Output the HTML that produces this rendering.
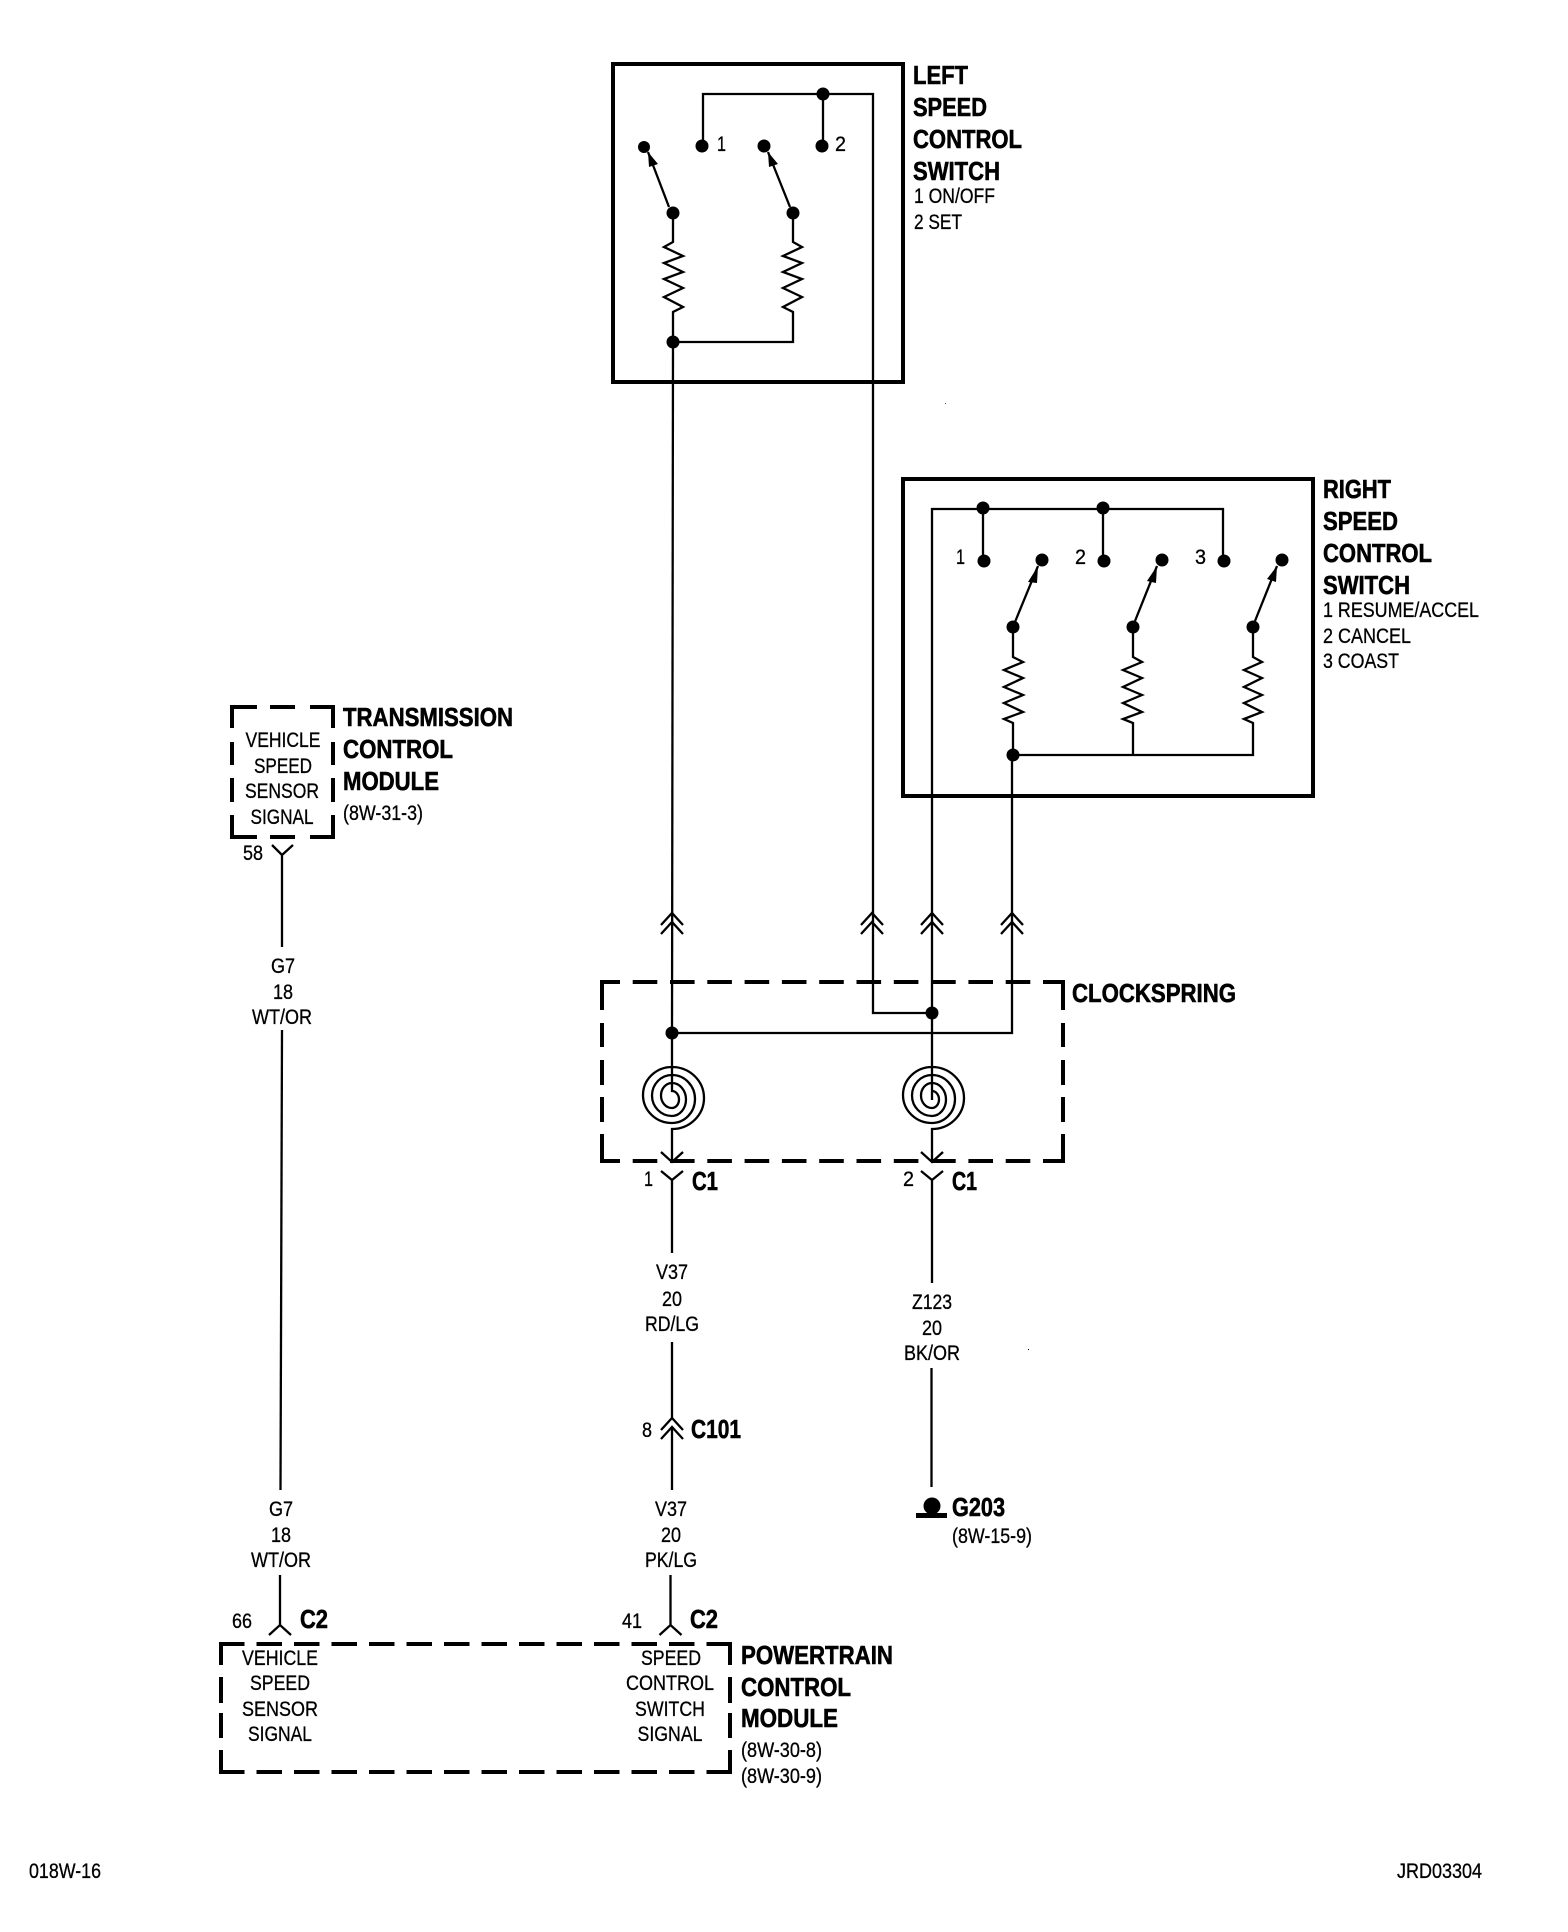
<!DOCTYPE html>
<html><head><meta charset="utf-8"><style>
html,body{margin:0;padding:0;background:#fff}
svg{display:block}
text{font-family:"Liberation Sans",sans-serif;fill:#000}
.b{font-weight:bold;font-size:26px;stroke:#000;stroke-width:.6px;transform:translateX(-1px)}
.r{font-size:21px;stroke:#000;stroke-width:.3px}
.c{text-anchor:middle}
.w{fill:none;stroke:#000;stroke-width:2.3;stroke-linejoin:miter}
.k{fill:none;stroke:#000;stroke-width:4}
.d{fill:#000;stroke:none}
</style></head><body>
<svg width="1568" height="1932" viewBox="0 0 1568 1932" xmlns="http://www.w3.org/2000/svg">
<rect width="1568" height="1932" fill="#fff"/>

<!-- LEFT SWITCH -->
<rect x="613" y="64" width="290" height="318" class="k"/>
<path class="w" d="M703 147V94H873V1013H932"/>
<path class="w" d="M823 94V147"/>
<path class="w" d="M669 207L648 152M790 207L768 152"/>
<path class="d" d="M648 152L649 167L658 164ZM768 152L769 167L778 164Z"/>
<path class="w" d="M673 213V242L664 247L683 256L664 263L683 272L664 279L683 288L664 297L683 307L673 312V342H793V312L783 307L802 297L783 288L802 279L783 272L802 263L783 256L802 247L793 242V213"/>
<path class="w" d="M673 342L672 1033"/>
<g class="d">
<circle cx="644" cy="147" r="6"/><circle cx="702" cy="146" r="6.5"/><circle cx="764" cy="146" r="6.5"/><circle cx="822" cy="146" r="6.5"/>
<circle cx="823" cy="94" r="6.5"/><circle cx="673" cy="213" r="6.5"/><circle cx="793" cy="213" r="6.5"/><circle cx="673" cy="342" r="6.5"/>
</g>
<text class="r" x="717" y="151" textLength="9" lengthAdjust="spacingAndGlyphs">1</text>
<text class="r" x="835" y="151" textLength="11" lengthAdjust="spacingAndGlyphs">2</text>
<text class="b" x="914" y="84" textLength="55" lengthAdjust="spacingAndGlyphs">LEFT</text>
<text class="b" x="914" y="116" textLength="74" lengthAdjust="spacingAndGlyphs">SPEED</text>
<text class="b" x="914" y="148" textLength="109" lengthAdjust="spacingAndGlyphs">CONTROL</text>
<text class="b" x="914" y="180" textLength="87" lengthAdjust="spacingAndGlyphs">SWITCH</text>
<text class="r" x="914" y="203" textLength="81" lengthAdjust="spacingAndGlyphs">1 ON/OFF</text>
<text class="r" x="914" y="229" textLength="48" lengthAdjust="spacingAndGlyphs">2 SET</text>

<!-- RIGHT SWITCH -->
<rect x="903" y="479" width="410" height="317" class="k"/>
<path class="w" d="M932 1100V509H1223V560"/>
<path class="w" d="M983 509V560M1103 509V560"/>
<path class="w" d="M1015 622L1038 566M1135 621L1157 566M1255 621L1277 566"/>
<path class="d" d="M1038 566L1028 582L1037 583ZM1157 566L1147 581L1156 583ZM1277 566L1267 579L1276 582Z"/>
<path class="w" d="M1013 627V657L1023 662L1004 670L1023 678L1004 687L1023 695L1004 703L1023 712L1004 719L1013 723V755"/>
<path class="w" d="M1133 627V657L1142 662L1123 670L1142 678L1123 687L1142 695L1123 703L1142 712L1123 719L1133 723V755"/>
<path class="w" d="M1253 627V657L1262 662L1244 670L1262 678L1244 687L1262 695L1244 703L1262 712L1244 719L1253 723V755H1012V1033H672"/>
<g class="d">
<circle cx="983" cy="508" r="6.5"/><circle cx="1103" cy="508" r="6.5"/>
<circle cx="984" cy="561" r="6.5"/><circle cx="1042" cy="560" r="6.5"/><circle cx="1104" cy="561" r="6.5"/><circle cx="1162" cy="560" r="6.5"/><circle cx="1224" cy="561" r="6.5"/><circle cx="1282" cy="560" r="6.5"/>
<circle cx="1013" cy="627" r="6.5"/><circle cx="1133" cy="627" r="6.5"/><circle cx="1253" cy="627" r="6.5"/><circle cx="1013" cy="755" r="6.5"/>
</g>
<text class="r" x="956" y="564" textLength="9" lengthAdjust="spacingAndGlyphs">1</text>
<text class="r" x="1075" y="564" textLength="11" lengthAdjust="spacingAndGlyphs">2</text>
<text class="r" x="1195" y="564" textLength="11" lengthAdjust="spacingAndGlyphs">3</text>
<text class="b" x="1324" y="498" textLength="68" lengthAdjust="spacingAndGlyphs">RIGHT</text>
<text class="b" x="1324" y="530" textLength="75" lengthAdjust="spacingAndGlyphs">SPEED</text>
<text class="b" x="1324" y="562" textLength="109" lengthAdjust="spacingAndGlyphs">CONTROL</text>
<text class="b" x="1324" y="594" textLength="87" lengthAdjust="spacingAndGlyphs">SWITCH</text>
<text class="r" x="1323" y="617" textLength="156" lengthAdjust="spacingAndGlyphs">1 RESUME/ACCEL</text>
<text class="r" x="1323" y="643" textLength="88" lengthAdjust="spacingAndGlyphs">2 CANCEL</text>
<text class="r" x="1323" y="668" textLength="76" lengthAdjust="spacingAndGlyphs">3 COAST</text>

<!-- CHEVRONS -->
<path class="w" d="M661 925L672 913L683 925M661 934L672 922L683 934"/>
<path class="w" d="M861 925L872 913L883 925M861 934L872 922L883 934"/>
<path class="w" d="M921 925L932 913L943 925M921 934L932 922L943 934"/>
<path class="w" d="M1001 925L1012 913L1023 925M1001 934L1012 922L1023 934"/>

<!-- CLOCKSPRING -->
<path class="k" d="M602 982H1063" stroke-dasharray="24.6 12.7" stroke-dashoffset="6.6"/>
<path class="k" d="M602 1161H1063" stroke-dasharray="24.6 12.7" stroke-dashoffset="6.6"/>
<path class="k" d="M602 980V1010M602 1023V1047M602 1060V1085M602 1097V1122M602 1134V1163"/>
<path class="k" d="M1063 980V1010M1063 1023V1047M1063 1060V1085M1063 1097V1122M1063 1134V1163"/>
<circle class="d" cx="672" cy="1033" r="6.5"/><circle class="d" cx="932" cy="1013" r="6.5"/>
<path class="w" d="M672 1033V1091A7 8.5 0 0 1 672 1108A11 12.5 0 0 1 672 1083A14 16.5 0 0 1 672 1116A20 20.500 0 0 1 672 1075A23 24 0 0 1 672 1123A29 28 0 0 1 672 1067A32 31 0 0 1 672 1129V1161"/>
<path class="w" d="M932 1091A7 8.5 0 0 1 932 1108A11 12.5 0 0 1 932 1083A14 16.5 0 0 1 932 1116A20 20.500 0 0 1 932 1075A23 24 0 0 1 932 1123A29 28 0 0 1 932 1067A32 31 0 0 1 932 1129V1161"/>
<path class="w" d="M661 1152L672 1162L683 1152M921 1152L932 1162L943 1152"/>
<path class="w" d="M661 1171L672 1180L683 1171M672 1180V1253"/>
<path class="w" d="M921 1171L932 1180L943 1171M932 1180V1283"/>
<text class="b" x="1073" y="1002" textLength="164" lengthAdjust="spacingAndGlyphs">CLOCKSPRING</text>
<text class="r" x="644" y="1186" textLength="9" lengthAdjust="spacingAndGlyphs">1</text>
<text class="r" x="903" y="1186" textLength="11" lengthAdjust="spacingAndGlyphs">2</text>
<text class="b" x="693" y="1190" textLength="26" lengthAdjust="spacingAndGlyphs">C1</text>
<text class="b" x="953" y="1190" textLength="25" lengthAdjust="spacingAndGlyphs">C1</text>

<!-- V37 -->
<text class="r c" x="672" y="1279" textLength="32" lengthAdjust="spacingAndGlyphs">V37</text>
<text class="r c" x="672" y="1306" textLength="20" lengthAdjust="spacingAndGlyphs">20</text>
<text class="r c" x="672" y="1331" textLength="54" lengthAdjust="spacingAndGlyphs">RD/LG</text>
<path class="w" d="M672 1342V1418M672 1427V1490M661 1430L672 1418L683 1430M661 1439L672 1427L683 1439"/>
<text class="r" x="642" y="1437" textLength="10" lengthAdjust="spacingAndGlyphs">8</text>
<text class="b" x="692" y="1438" textLength="50" lengthAdjust="spacingAndGlyphs">C101</text>
<text class="r c" x="671" y="1516" textLength="32" lengthAdjust="spacingAndGlyphs">V37</text>
<text class="r c" x="671" y="1542" textLength="20" lengthAdjust="spacingAndGlyphs">20</text>
<text class="r c" x="671" y="1567" textLength="52" lengthAdjust="spacingAndGlyphs">PK/LG</text>

<!-- Z123 -->
<text class="r c" x="932" y="1309" textLength="40" lengthAdjust="spacingAndGlyphs">Z123</text>
<text class="r c" x="932" y="1335" textLength="20" lengthAdjust="spacingAndGlyphs">20</text>
<text class="r c" x="932" y="1360" textLength="56" lengthAdjust="spacingAndGlyphs">BK/OR</text>
<path class="w" d="M931.500 1368V1487"/>
<path class="d" d="M916 1513H947V1518H916Z"/>
<circle class="d" cx="932" cy="1506" r="8.500"/>
<text class="b" x="953" y="1516" textLength="53" lengthAdjust="spacingAndGlyphs">G203</text>
<text class="r" x="952" y="1543" textLength="80" lengthAdjust="spacingAndGlyphs">(8W-15-9)</text>
<rect x="1028" y="1349" width="1" height="1" fill="#000"/>
<rect x="945" y="403" width="1" height="1" fill="#555"/>

<!-- TCM -->
<path class="k" d="M232 709V707H257M270 707H295M310 707H333V728M333 742V765M333 778V802M333 815V837H310M295 837H270M257 837H232V815M232 802V778M232 765V742M232 728V709"/>
<text class="r c" x="283" y="747" textLength="75" lengthAdjust="spacingAndGlyphs">VEHICLE</text>
<text class="r c" x="283" y="773" textLength="58" lengthAdjust="spacingAndGlyphs">SPEED</text>
<text class="r c" x="282" y="798" textLength="74" lengthAdjust="spacingAndGlyphs">SENSOR</text>
<text class="r c" x="282" y="824" textLength="63" lengthAdjust="spacingAndGlyphs">SIGNAL</text>
<text class="b" x="344" y="726" textLength="170" lengthAdjust="spacingAndGlyphs">TRANSMISSION</text>
<text class="b" x="344" y="758" textLength="110" lengthAdjust="spacingAndGlyphs">CONTROL</text>
<text class="b" x="344" y="790" textLength="96" lengthAdjust="spacingAndGlyphs">MODULE</text>
<text class="r" x="343" y="820" textLength="80" lengthAdjust="spacingAndGlyphs">(8W-31-3)</text>
<text class="r" x="243" y="860" textLength="20" lengthAdjust="spacingAndGlyphs">58</text>
<path class="w" d="M272 845L282 855L293 845M282 855V947"/>
<text class="r c" x="283" y="973" textLength="24" lengthAdjust="spacingAndGlyphs">G7</text>
<text class="r c" x="283" y="999" textLength="20" lengthAdjust="spacingAndGlyphs">18</text>
<text class="r c" x="282" y="1024" textLength="60" lengthAdjust="spacingAndGlyphs">WT/OR</text>
<path class="w" d="M282 1030L280.500 1490"/>
<text class="r c" x="281" y="1516" textLength="24" lengthAdjust="spacingAndGlyphs">G7</text>
<text class="r c" x="281" y="1542" textLength="20" lengthAdjust="spacingAndGlyphs">18</text>
<text class="r c" x="281" y="1567" textLength="60" lengthAdjust="spacingAndGlyphs">WT/OR</text>

<!-- PCM -->
<path class="w" d="M280 1575V1625M269 1635L280 1625L291 1635"/>
<path class="w" d="M670.500 1575V1625M659.500 1635L670.500 1625L681.500 1635"/>
<text class="r" x="232" y="1628" textLength="20" lengthAdjust="spacingAndGlyphs">66</text>
<text class="r" x="622" y="1628" textLength="20" lengthAdjust="spacingAndGlyphs">41</text>
<text class="b" x="301" y="1628" textLength="28" lengthAdjust="spacingAndGlyphs">C2</text>
<text class="b" x="691" y="1628" textLength="28" lengthAdjust="spacingAndGlyphs">C2</text>
<path class="k" d="M221 1644H730" stroke-dasharray="25.500 12" stroke-dashoffset="2"/>
<path class="k" d="M221 1772H730" stroke-dasharray="25.500 12" stroke-dashoffset="2"/>
<path class="k" d="M221 1642V1665M221 1677V1703M221 1713V1738M221 1750V1774"/>
<path class="k" d="M730 1642V1665M730 1677V1703M730 1713V1738M730 1750V1774"/>
<text class="r c" x="280" y="1665" textLength="76" lengthAdjust="spacingAndGlyphs">VEHICLE</text>
<text class="r c" x="280" y="1690" textLength="60" lengthAdjust="spacingAndGlyphs">SPEED</text>
<text class="r c" x="280" y="1716" textLength="76" lengthAdjust="spacingAndGlyphs">SENSOR</text>
<text class="r c" x="280" y="1741" textLength="64" lengthAdjust="spacingAndGlyphs">SIGNAL</text>
<text class="r c" x="671" y="1665" textLength="60" lengthAdjust="spacingAndGlyphs">SPEED</text>
<text class="r c" x="670" y="1690" textLength="88" lengthAdjust="spacingAndGlyphs">CONTROL</text>
<text class="r c" x="670" y="1716" textLength="70" lengthAdjust="spacingAndGlyphs">SWITCH</text>
<text class="r c" x="670" y="1741" textLength="65" lengthAdjust="spacingAndGlyphs">SIGNAL</text>
<text class="b" x="742" y="1664" textLength="152" lengthAdjust="spacingAndGlyphs">POWERTRAIN</text>
<text class="b" x="742" y="1696" textLength="110" lengthAdjust="spacingAndGlyphs">CONTROL</text>
<text class="b" x="742" y="1727" textLength="97" lengthAdjust="spacingAndGlyphs">MODULE</text>
<text class="r" x="741" y="1757" textLength="81" lengthAdjust="spacingAndGlyphs">(8W-30-8)</text>
<text class="r" x="741" y="1783" textLength="81" lengthAdjust="spacingAndGlyphs">(8W-30-9)</text>

<!-- FOOTER -->
<text class="r" x="29" y="1878" font-size="20" textLength="72" lengthAdjust="spacingAndGlyphs">018W-16</text>
<text class="r" x="1397" y="1878" font-size="20" textLength="85" lengthAdjust="spacingAndGlyphs">JRD03304</text>
</svg>
</body></html>
